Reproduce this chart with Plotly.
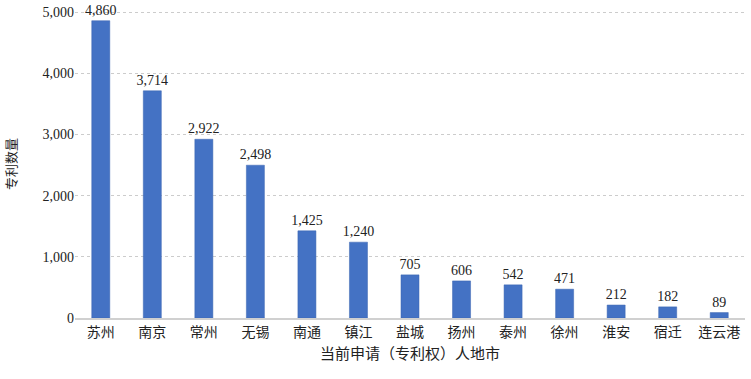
import plotly.graph_objects as go

cities = ["苏州", "南京", "常州", "无锡", "南通", "镇江", "盐城", "扬州", "泰州", "徐州", "淮安", "宿迁", "连云港"]
counts = [4860, 3714, 2922, 2498, 1425, 1240, 705, 606, 542, 471, 212, 182, 89]
y_ticks = [0, 1000, 2000, 3000, 4000, 5000]

FONT = "Liberation Serif, Noto Sans CJK SC, serif"

fig = go.Figure(go.Bar(
    x=cities, y=counts,
    marker=dict(color="#4472C4", line=dict(color="#3A64B0", width=0.5)),
    text=[f"{v:,}" for v in counts], textposition="outside",
    textfont=dict(family=FONT, size=14, color="#222"),
    cliponaxis=False,
))
fig.update_layout(
    width=751, height=379,
    margin=dict(l=75, r=6, t=10, b=61),
    plot_bgcolor="white", paper_bgcolor="white",
    bargap=0.65,
    uniformtext=dict(minsize=14, mode="show"),
    font=dict(family=FONT, size=13, color="#222"),
    showlegend=False,
)
fig.update_xaxes(
    title=dict(text="当前申请（专利权）人地市", font=dict(size=15), standoff=10),
    showline=True, linecolor="#D0D0D0", linewidth=1.5,
    tickfont=dict(size=14), ticks="", automargin=False,
)
fig.update_yaxes(
    title=dict(text="专利数量", font=dict(size=13), standoff=22),
    range=[0, 5035], tickvals=y_ticks, tickformat=",",
    showgrid=True, gridcolor="#CCCCCC", griddash="dot", gridwidth=1,
    zeroline=False, tickfont=dict(size=14), ticks="", automargin=False,
    ticklabeloverflow="allow",
)
fig.write_html(
    "out.html",
    config={"displayModeBar": False},
    post_script="document.body.style.margin='0';document.body.style.overflow='hidden';",
)
